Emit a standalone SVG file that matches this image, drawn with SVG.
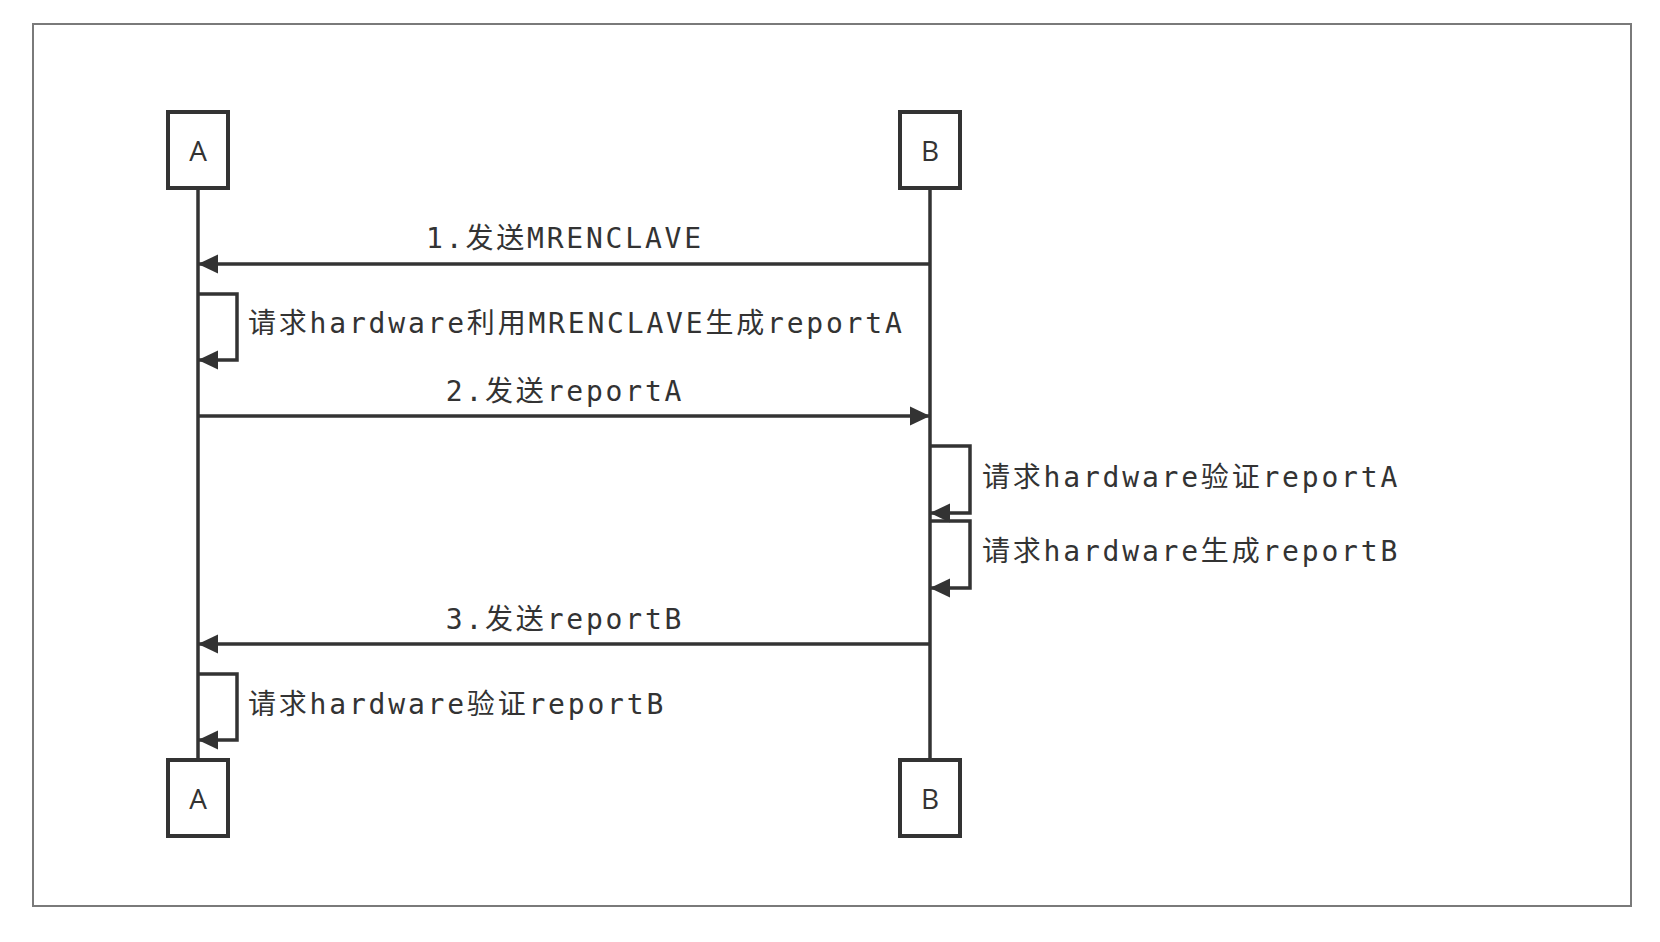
<svg xmlns="http://www.w3.org/2000/svg" width="1660" height="942" viewBox="0 0 1660 942">
<style>
.frame{fill:none;stroke:#7a7a7a;stroke-width:2}
.box{fill:#fff;stroke:#333;stroke-width:4}
.life{stroke:#333;stroke-width:3.5;fill:none}
.msg{stroke:#333;stroke-width:3.5;fill:none}
.nt{font-family:"Open Sans","Liberation Sans","Noto Sans",sans-serif;font-size:28px;fill:#333;text-anchor:middle}
.lb{font-family:"DejaVu Sans Mono","Noto Sans CJK SC",monospace;font-size:28px;fill:#333;letter-spacing:2.8px}
.mid{text-anchor:middle}
</style>
<defs>
<marker id="ah" viewBox="0 0 20 20" refX="19" refY="10" markerWidth="20" markerHeight="20" markerUnits="userSpaceOnUse" orient="auto">
<path d="M0,0.5 L20,10 L0,19.5 Z" fill="#333"/>
</marker>
</defs>
<rect width="1660" height="942" fill="#fff"/>
<rect class="frame" x="33" y="24" width="1598" height="882"/>
<g id="lifelines">
<line class="life" x1="198" y1="188" x2="198" y2="759"/>
<line class="life" x1="930" y1="188" x2="930" y2="759"/>
</g>
<g id="A-top"><rect class="box" x="168" y="112" width="60" height="76"/><text class="nt" x="198" y="161">A</text></g>
<g id="B-top"><rect class="box" x="900" y="112" width="60" height="76"/><text class="nt" x="930" y="161">B</text></g>
<g id="A-bottom"><rect class="box" x="168" y="760" width="60" height="76"/><text class="nt" x="198" y="809">A</text></g>
<g id="B-bottom"><rect class="box" x="900" y="760" width="60" height="76"/><text class="nt" x="930" y="809">B</text></g>
<g id="connectors">
<line class="msg" x1="930" y1="264" x2="199" y2="264" marker-end="url(#ah)"/>
<polyline class="msg" points="198,294 237,294 237,360 199,360" marker-end="url(#ah)"/>
<line class="msg" x1="198" y1="416" x2="929" y2="416" marker-end="url(#ah)"/>
<polyline class="msg" points="930,446 970,446 970,513 931,513" marker-end="url(#ah)"/>
<polyline class="msg" points="930,521 970,521 970,588 931,588" marker-end="url(#ah)"/>
<line class="msg" x1="930" y1="644" x2="199" y2="644" marker-end="url(#ah)"/>
<polyline class="msg" points="198,674 237,674 237,740 199,740" marker-end="url(#ah)"/>
</g>
<g id="labels">
<text class="lb mid" x="565" y="248">1.发送MRENCLAVE</text>
<text class="lb" x="248" y="333">请求hardware利用MRENCLAVE生成reportA</text>
<text class="lb mid" x="565" y="401">2.发送reportA</text>
<text class="lb" x="982" y="487">请求hardware验证reportA</text>
<text class="lb" x="982" y="561">请求hardware生成reportB</text>
<text class="lb mid" x="565" y="629">3.发送reportB</text>
<text class="lb" x="248" y="714">请求hardware验证reportB</text>
</g>
</svg>
